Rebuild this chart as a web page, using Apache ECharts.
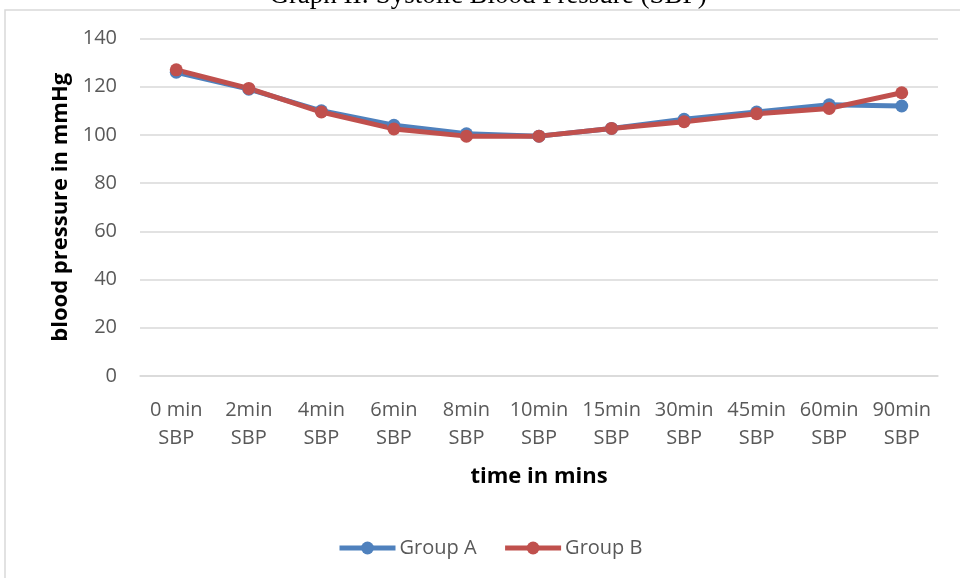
<!DOCTYPE html>
<html><head><meta charset="utf-8">
<script src="https://cdn.jsdelivr.net/npm/echarts@6/dist/echarts.min.js"></script>
<style>html,body{margin:0;padding:0;background:#fff}#c{width:960px;height:578px}</style>
</head><body><div id="c"></div>
<script>
const categories = ['0 min\nSBP','2min\nSBP','4min\nSBP','6min\nSBP','8min\nSBP','10min\nSBP','15min\nSBP','30min\nSBP','45min\nSBP','60min\nSBP','90min\nSBP'];
const groupA = [126, 119, 110, 104, 100.5, 99.5, 102.7, 106.5, 109.5, 112.5, 112];
const groupB = [127, 119.3, 109.5, 102.5, 99.5, 99.5, 102.7, 105.5, 108.8, 111, 117.5];
const yTicks = [0, 20, 40, 60, 80, 100, 120, 140];

const chart = echarts.init(document.getElementById('c'), null, {renderer: 'canvas'});
const font = 'Open Sans';
chart.setOption({
  animation: false,
  backgroundColor: '#fff',
  graphic: [
    {type: 'rect', shape: {x: 5, y: 10, width: 1000, height: 600}, style: {fill: 'none', stroke: '#D9D9D9', lineWidth: 1.5}, z: -1},
    {type: 'text', x: 488, y: 9, style: {text: 'Graph II: Systolic Blood Pressure (SBP)', font: '27px "Liberation Serif"', fill: '#000', textAlign: 'center', textVerticalAlign: 'bottom'}}
  ],
  grid: {left: 140, right: 22, top: 38.5, bottom: 202, containLabel: false},
  legend: {
    bottom: 15, left: 332,
    itemWidth: 56, itemHeight: 16, itemGap: 26,
    lineStyle: {width: 5},
    textStyle: {fontFamily: font, fontSize: 20, color: '#595959', padding: [0,0,0,-1]},
    data: ['Group A', 'Group B']
  },
  xAxis: {
    type: 'category', data: categories, boundaryGap: true,
    name: 'time in mins', nameLocation: 'middle', nameGap: 90,
    nameTextStyle: {fontFamily: font, fontSize: 22, fontWeight: 'bold', color: '#000'},
    axisLine: {lineStyle: {color: '#D9D9D9', width: 1.5}},
    axisTick: {show: false},
    axisLabel: {fontFamily: font, fontSize: 20, color: '#595959', lineHeight: 28, margin: 20, interval: 0}
  },
  yAxis: {
    type: 'value', min: yTicks[0], max: yTicks[yTicks.length-1], interval: 20,
    name: 'blood pressure in mmHg', nameLocation: 'middle', nameGap: 68, nameRotate: 90,
    nameTextStyle: {fontFamily: font, fontSize: 22, fontWeight: 'bold', color: '#000'},
    axisLine: {show: false}, axisTick: {show: false},
    axisLabel: {fontFamily: font, fontSize: 20, color: '#595959', margin: 23},
    splitLine: {lineStyle: {color: '#D9D9D9', width: 1.5}}
  },
  series: [
    {name: 'Group A', type: 'line', data: groupA, symbol: 'circle', symbolSize: 13,
     lineStyle: {width: 5, color: '#4F81BD'}, itemStyle: {color: '#4F81BD'}},
    {name: 'Group B', type: 'line', data: groupB, symbol: 'circle', symbolSize: 13,
     lineStyle: {width: 5, color: '#C0504D'}, itemStyle: {color: '#C0504D'}}
  ]
});
</script></body></html>
